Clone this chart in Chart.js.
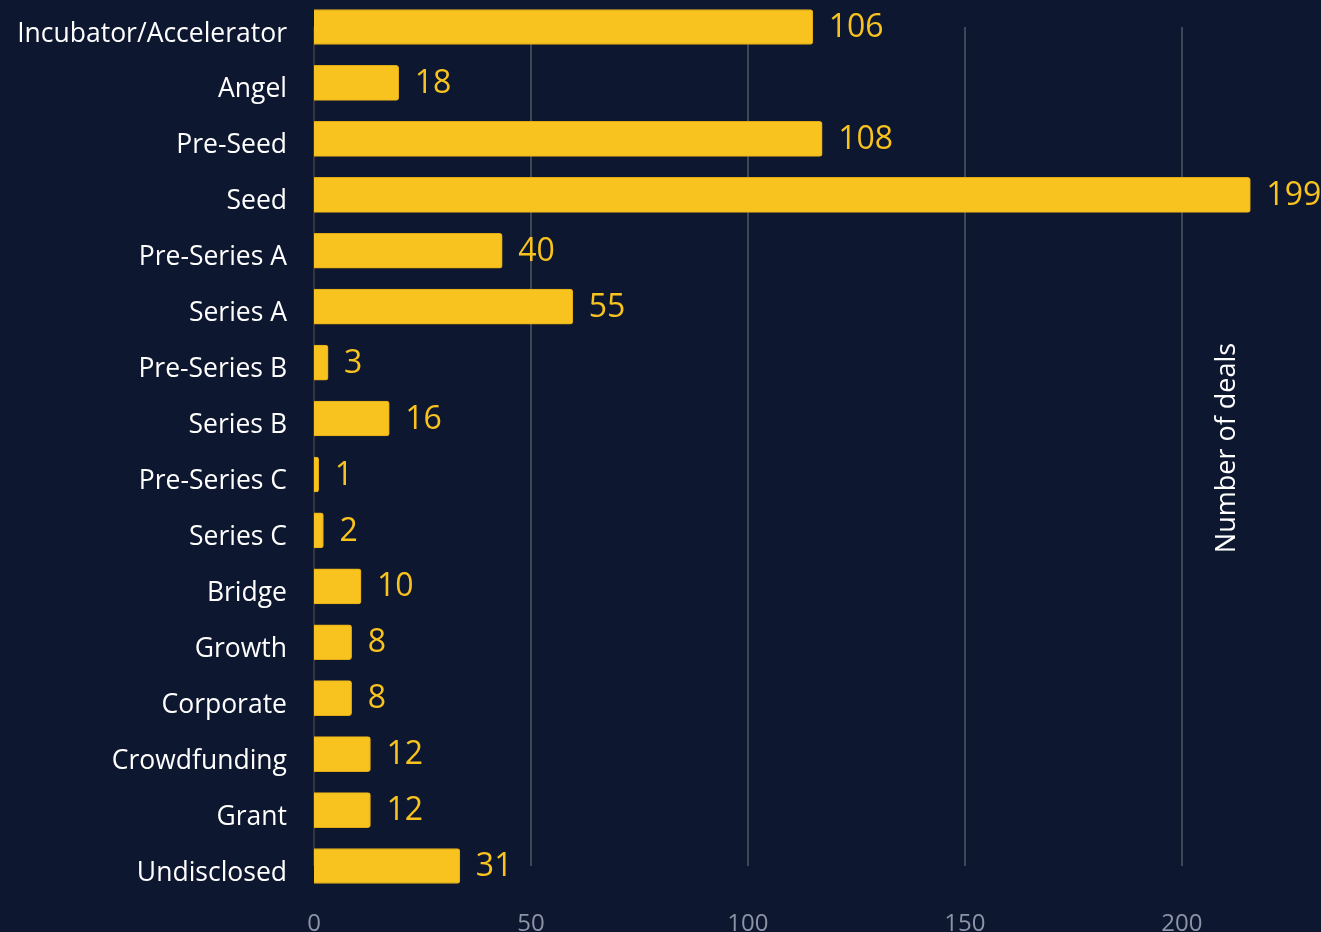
<!DOCTYPE html>
<html>
<head>
<meta charset="utf-8">
<script src="https://cdn.jsdelivr.net/npm/chart.js@4/dist/chart.umd.min.js"></script>
<style>
  html, body { margin: 0; padding: 0; background: #0e1730; }
  #wrap { width: 1321px; height: 932px; position: relative; }
</style>
</head>
<body>
<div id="wrap"><canvas id="c" width="1321" height="932"></canvas></div>
<script>
const categories = ["Incubator/Accelerator","Angel","Pre-Seed","Seed","Pre-Series A","Series A","Pre-Series B","Series B","Pre-Series C","Series C","Bridge","Growth","Corporate","Crowdfunding","Grant","Undisclosed"];
const deals = [106,18,108,199,40,55,3,16,1,2,10,8,8,12,12,31];
const axisTitle = "Number of deals";

const FONT = "'Open Sans', 'Noto Sans', sans-serif";

const valueLabels = {
  id: 'valueLabels',
  afterDatasetsDraw(chart) {
    const ctx = chart.ctx;
    const meta = chart.getDatasetMeta(0);
    ctx.save();
    ctx.font = "32px " + FONT;
    ctx.fillStyle = "#f9c31f";
    ctx.textAlign = "left";
    ctx.textBaseline = "middle";
    meta.data.forEach((bar, i) => {
      ctx.fillText(String(deals[i]), bar.x + 16, bar.y + 1);
    });
    ctx.restore();
  }
};

const sideTitle = {
  id: 'sideTitle',
  afterDraw(chart) {
    const ctx = chart.ctx;
    ctx.save();
    ctx.font = "27px " + FONT;
    ctx.fillStyle = "#ffffff";
    ctx.textAlign = "center";
    ctx.textBaseline = "middle";
    ctx.translate(1227, 448);
    ctx.rotate(-Math.PI / 2);
    ctx.fillText(axisTitle, 0, 0);
    ctx.restore();
  }
};

new Chart(document.getElementById('c'), {
  type: 'bar',
  data: {
    labels: categories,
    datasets: [{
      data: deals,
      xAxisID: 'xb',
      yAxisID: 'y',
      backgroundColor: '#f9c31f',
      borderColor: '#e0ab17',
      borderWidth: 1,
      borderRadius: 3,
      borderSkipped: 'start',
      barThickness: 35,
      clip: false
    }]
  },
  options: {
    indexAxis: 'y',
    responsive: false,
    animation: false,
    layout: { padding: { top: 27, right: 9, bottom: 0, left: 0 } },
    plugins: { legend: { display: false }, tooltip: { enabled: false } },
    scales: {
      y: {
        type: 'category',
        offset: false,
        grid: { display: false, drawTicks: false },
        border: { display: false },
        ticks: {
          color: '#ffffff',
          font: { family: FONT, size: 26.5 },
          padding: 27,
          labelOffset: 7,
          autoSkip: false
        },
        afterFit(scale) {
          scale.width = 314;
          scale.paddingTop = 0;
          scale.paddingBottom = 0;
        }
      },
      x: {
        type: 'linear',
        position: 'bottom',
        min: 0,
        max: 230,
        grid: {
          drawTicks: false,
          lineWidth: 2,
          color: (c) => (c.tick && c.tick.value === 0) ? '#30353f' : '#3e4657'
        },
        border: { display: false },
        ticks: {
          stepSize: 50,
          includeBounds: false,
          color: '#8b93a5',
          font: { family: FONT, size: 24 },
          padding: 44
        },
        afterFit(scale) { scale.height = 66; }
      },
      xb: {
        type: 'linear',
        display: false,
        min: 0,
        max: 212.1
      }
    }
  },
  plugins: [valueLabels, sideTitle]
});
</script>
</body>
</html>
